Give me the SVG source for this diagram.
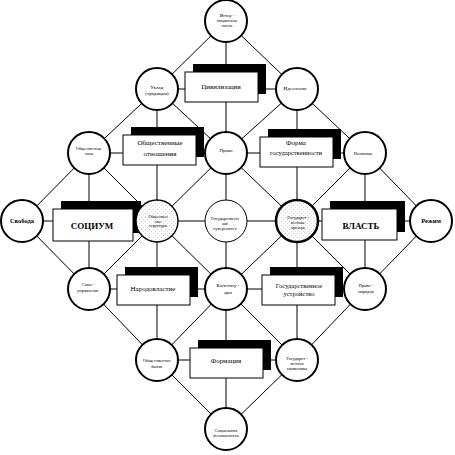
<svg xmlns="http://www.w3.org/2000/svg" width="455" height="455" viewBox="0 0 455 455">
<style>
.bg{fill:#fff}
.ln{stroke:#000;stroke-width:1;fill:none}
.c{fill:#fff;stroke:#000;stroke-width:2}
.cthin{fill:#fff;stroke:#000;stroke-width:1}
.cdot{fill:url(#dots);stroke:#000;stroke-width:1.4}
.cdotb{fill:url(#dots);stroke:#000;stroke-width:2.5}
.sh{fill:#000}
.bx{fill:#fff;stroke:#000;stroke-width:1}
text{font-family:"Liberation Serif","Times New Roman",serif;text-anchor:middle;fill:#000}
.t45{font-size:4.5px}
.t4{font-size:4px}
.t5{font-size:5px}
.tb{font-size:7px}
.tg{font-size:6.5px}
.tbig{font-size:9px;font-weight:bold}
.tsv{font-size:6.5px;font-weight:bold}
</style>
<defs>
<pattern id="dots" width="4" height="4" patternUnits="userSpaceOnUse">
<rect width="4" height="4" fill="#fff"/>
<rect x="1" y="1" width="1" height="1" fill="#c8c8dc"/>
<rect x="3" y="3" width="1" height="1" fill="#dcdce8"/>
</pattern>
</defs>
<rect class="bg" width="455" height="455"/>
<g id="connectors" class="ln">
<line x1="157" y1="89" x2="296" y2="89"/>
<line x1="89" y1="153" x2="365" y2="153"/>
<line x1="22" y1="221" x2="431" y2="221"/>
<line x1="89" y1="289" x2="365" y2="289"/>
<line x1="157" y1="360" x2="297" y2="360"/>
<line x1="89" y1="153" x2="89" y2="289"/>
<line x1="157" y1="89" x2="157" y2="360"/>
<line x1="226" y1="21" x2="226" y2="429"/>
<line x1="297" y1="89" x2="297" y2="360"/>
<line x1="365" y1="153" x2="365" y2="289"/>
<line x1="226" y1="21" x2="157" y2="89"/>
<line x1="226" y1="21" x2="297" y2="89"/>
<line x1="157" y1="89" x2="89" y2="153"/>
<line x1="157" y1="89" x2="226" y2="153"/>
<line x1="297" y1="89" x2="226" y2="153"/>
<line x1="297" y1="89" x2="365" y2="153"/>
<line x1="89" y1="153" x2="22" y2="221"/>
<line x1="89" y1="153" x2="157" y2="221"/>
<line x1="226" y1="153" x2="157" y2="221"/>
<line x1="226" y1="153" x2="297" y2="221"/>
<line x1="365" y1="153" x2="297" y2="221"/>
<line x1="365" y1="153" x2="431" y2="221"/>
<line x1="22" y1="221" x2="89" y2="289"/>
<line x1="157" y1="221" x2="89" y2="289"/>
<line x1="157" y1="221" x2="226" y2="289"/>
<line x1="297" y1="221" x2="226" y2="289"/>
<line x1="297" y1="221" x2="365" y2="289"/>
<line x1="431" y1="221" x2="365" y2="289"/>
<line x1="89" y1="289" x2="157" y2="360"/>
<line x1="226" y1="289" x2="157" y2="360"/>
<line x1="226" y1="289" x2="297" y2="360"/>
<line x1="365" y1="289" x2="297" y2="360"/>
<line x1="157" y1="360" x2="226" y2="429"/>
<line x1="297" y1="360" x2="226" y2="429"/>
</g>
<g id="box-civ"><rect class="sh" x="193" y="64" width="73" height="30"/><rect class="bx" x="185" y="72" width="73" height="30"/><text class="tb" x="221" y="89.3">Цивилизация</text></g>
<g id="box-oo"><rect class="sh" x="131" y="127" width="73" height="30"/><rect class="bx" x="123" y="135" width="73" height="30"/><text class="tb" x="160" y="145.3">Общественные</text><text class="tb" x="160" y="156.3">отношения</text></g>
<g id="box-forma"><rect class="sh" x="268" y="129" width="73" height="30"/><rect class="bx" x="260" y="137" width="73" height="30"/><text class="tb" x="296" y="145.3">Форма</text><text class="tg" x="296" y="154.5">государственности</text></g>
<g id="box-socium"><rect class="sh" x="61" y="201" width="80" height="32"/><rect class="bx" x="53" y="209" width="80" height="32"/><text class="tbig" x="92" y="228.5">СОЦИУМ</text></g>
<g id="box-vlast"><rect class="sh" x="330" y="201" width="75" height="31"/><rect class="bx" x="322" y="209" width="75" height="31"/><text class="tbig" x="361" y="228.5">ВЛАСТЬ</text></g>
<g id="box-narod"><rect class="sh" x="125" y="267" width="73" height="30"/><rect class="bx" x="117" y="275" width="73" height="30"/><text class="tb" x="153" y="290.5">Народовластие</text></g>
<g id="box-gu"><rect class="sh" x="270" y="267" width="73" height="30"/><rect class="bx" x="262" y="275" width="73" height="30"/><text class="tg" x="299" y="288.2">Государственное</text><text class="tg" x="299" y="295.6">устройство</text></g>
<g id="box-formacia"><rect class="sh" x="198" y="340" width="73" height="30"/><rect class="bx" x="190" y="348" width="73" height="30"/><text class="tb" x="226" y="362.5">Формация</text></g>
<g id="n-top"><circle class="c" cx="226" cy="21" r="21"/><text class="t45" x="227" y="16.5">Интер -</text><text class="t45" x="227" y="21.5">националь</text><text class="t45" x="227" y="26.5">ность</text></g>
<g id="n-uklad"><circle class="c" cx="157" cy="89" r="21"/><text class="t5" x="157" y="88.7">Уклад</text><text class="t5" x="157" y="94.7">(традиции)</text></g>
<g id="n-ideol"><circle class="c" cx="297" cy="89" r="21"/><text class="t5" x="295" y="89.8">Идеология</text></g>
<g id="n-osily"><circle class="c" cx="89" cy="153" r="21"/><text class="t4" x="89" y="149.5">Общественные</text><text class="t4" x="89" y="154.5">силы</text></g>
<g id="n-pravo"><circle class="c" cx="226" cy="153" r="21"/><text class="t5" x="226" y="151.7">Право</text></g>
<g id="n-polit"><circle class="c" cx="365" cy="153" r="21"/><text class="t45" x="363" y="154.5">Политика</text></g>
<g id="n-svoboda"><circle class="c" cx="22" cy="221" r="21"/><text class="tsv" x="22" y="222.5">Свобода</text></g>
<g id="n-ostr"><circle class="cdot" cx="157" cy="221" r="21"/><text class="t4" x="158" y="218.4">Обществен</text><text class="t4" x="158" y="222.9">ные</text><text class="t4" x="158" y="227.4">структуры</text></g>
<g id="n-gsuv"><circle class="cthin" cx="226" cy="221" r="21"/><text class="t45" x="225" y="219.6">Государственн</text><text class="t45" x="225" y="224.6">ый</text><text class="t45" x="225" y="229.6">суверенитет</text></g>
<g id="n-gorg"><circle class="cdotb" cx="297" cy="221" r="21"/><text class="t45" x="298" y="218.6">Государст -</text><text class="t45" x="298" y="223.6">венные</text><text class="t45" x="298" y="228.6">органы</text></g>
<g id="n-rezhim"><circle class="c" cx="431" cy="221" r="21"/><text class="tsv" x="431" y="222.5">Режим</text></g>
<g id="n-samoupr"><circle class="c" cx="89" cy="289" r="21"/><text class="t45" x="88" y="285.6">Само -</text><text class="t45" x="88" y="291.6">управление</text></g>
<g id="n-konst"><circle class="c" cx="226" cy="289" r="21"/><text class="t5" x="228" y="286.7">Конститу -</text><text class="t5" x="228" y="293.7">ция</text></g>
<g id="n-pravop"><circle class="c" cx="365" cy="289" r="21"/><text class="t45" x="366" y="286.7">Право -</text><text class="t45" x="366" y="293.2">порядок</text></g>
<g id="n-obyt"><circle class="c" cx="157" cy="360" r="21"/><text class="t45" x="157" y="361.6">Общественное</text><text class="t45" x="157" y="367.6">бытие</text></g>
<g id="n-gsim"><circle class="c" cx="297" cy="360" r="21"/><text class="t45" x="297" y="359.5">Государст -</text><text class="t45" x="297" y="364.5">венная</text><text class="t45" x="297" y="369.5">символика</text></g>
<g id="n-bottom"><circle class="c" cx="226" cy="429" r="21"/><text class="t45" x="226" y="431.5">Социальная</text><text class="t45" x="226" y="436.5">безопасность</text></g>
</svg>
